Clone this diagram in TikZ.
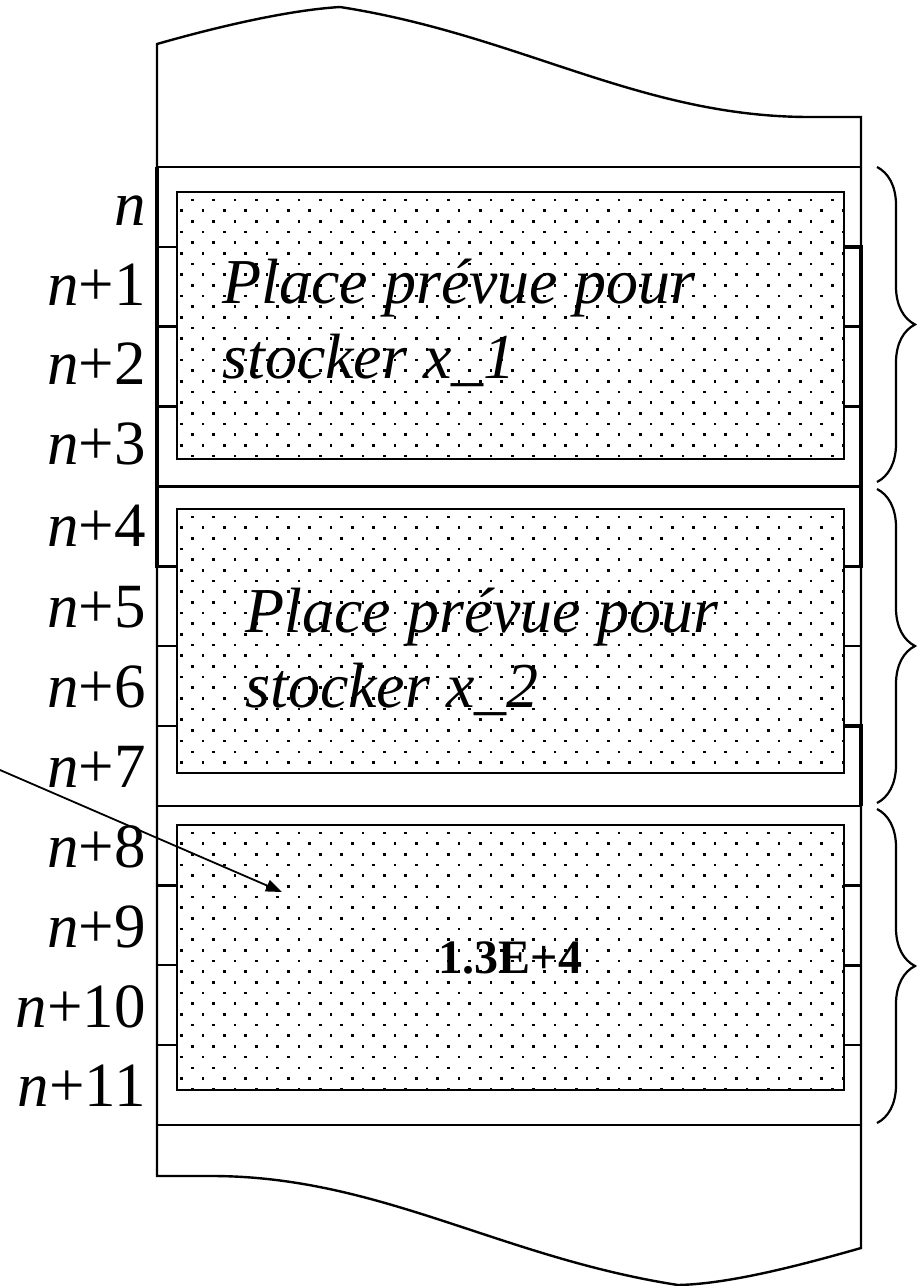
\documentclass[tikz,border=0pt]{standalone}
\usepackage{fontspec}
\setmainfont{Liberation Serif}
\usetikzlibrary{arrows.meta,decorations.pathreplacing}

% stippled fill of a rectangle: #1,#2 = top-left, #3,#4 = bottom-right (pixel units)
\newcommand\stipple[4]{%
  \begin{scope}
    \clip (#1,#2) rectangle (#3,#4);
    \foreach \j in {0,...,26}{
      \foreach \i in {0,...,32}{
        \fill ({#1+4.7+10.67*mod(\j+1,2)+21.33*\i-1.25},{#2+8+10.67*\j-1.25}) rectangle +(2.5,2.5);
      }
    }
  \end{scope}}

\tikzset{
  frame/.style={line width=1.2pt},
  heavy/.style={line width=1.7pt},
  cell/.style={line width=1.15pt},
  rowlabel/.style={anchor=base east, inner sep=0pt, font=\fontsize{31.5}{36}\selectfont},
  slottext/.style={anchor=base west, inner sep=0pt, font=\fontsize{32}{36}\selectfont\itshape},
  value/.style={inner sep=0pt, font=\fontsize{24}{28}\selectfont\bfseries},
  bracebar/.style={line width=1.1pt, decorate, decoration={brace, amplitude=19pt}},
  pointer/.style={line width=0.9pt, -{Triangle[length=8pt,width=6pt]}}
}

\begin{document}
\begin{tikzpicture}[x=0.5pt,y=-0.5pt]
  \useasboundingbox (0,0) rectangle (923,1286);

  % memory strip outline with torn top and bottom edges
  \draw[frame] (157,44) .. controls (220,26) and (290,10) .. (340,7)
    .. controls (520,35) and (640,117) .. (810,117) -- (861,117)
    -- (861,1248) .. controls (798,1266) and (728,1284) .. (678,1285)
    .. controls (498,1257) and (378,1175) .. (208,1176) -- (157,1176) -- cycle;

  % block separators
  \foreach \y in {167,486.3,805.7,1125}
    \draw[frame] (157,\y) -- (861,\y);

  % stippled storage areas
  \stipple{177}{192}{844}{459}
  \stipple{177}{509}{844}{773}
  \stipple{177}{825}{844}{1090}
  \draw[cell] (177,192) rectangle (844,459);
  \draw[cell] (177,509) rectangle (844,773);
  \draw[cell] (177,825) rectangle (844,1090);

  % word boundaries inside each block
  \foreach \t in {167,486.3,805.7}{
    \foreach \k in {1,2,3}{
      \draw[cell] (157,{\t+79.8*\k}) -- (177,{\t+79.8*\k});
      \draw[cell] (844,{\t+79.8*\k}) -- (861,{\t+79.8*\k});
    }
  }

  % overlapping word outlines drawn a little heavier
  \draw[heavy] (157,167) -- (157,566.2) -- (177,566.2);
  \draw[heavy] (844,246.8) -- (861,246.8) -- (861,566.2) -- (844,566.2);
  \draw[heavy] (844,725.8) -- (861,725.8) -- (861,805.7);
  \draw[heavy] (844,965.3) -- (861,965.3);

  % addresses
  \node[rowlabel] (l0)  at (146,225) {\textit{n}};
  \node[rowlabel] (l1)  at (146,305) {\textit{n}+1};
  \node[rowlabel] (l2)  at (146,384) {\textit{n}+2};
  \node[rowlabel] (l3)  at (146,464) {\textit{n}+3};
  \node[rowlabel] (l4)  at (146,546) {\textit{n}+4};
  \node[rowlabel] (l5)  at (146,627) {\textit{n}+5};
  \node[rowlabel] (l6)  at (146,707) {\textit{n}+6};
  \node[rowlabel] (l7)  at (146,787) {\textit{n}+7};
  \node[rowlabel] (l8)  at (146,867) {\textit{n}+8};
  \node[rowlabel] (l9)  at (146,947) {\textit{n}+9};
  \node[rowlabel] (l10) at (146,1027) {\textit{n}+10};
  \node[rowlabel] (l11) at (146,1106) {\textit{n}+11};

  % contents
  \node[slottext] (p1a) at (222,303) {Place prévue pour};
  \node[slottext] (p1b) at (222,378) {stocker x\_1};
  \node[slottext] (p2a) at (245,632) {Place prévue pour};
  \node[slottext] (p2b) at (245,707) {stocker x\_2};
  \node[value] (v3) at (510.5,957.5) {1.3E+4};

  % braces grouping four words
  \coordinate (b1t) at (877,167);  \coordinate (b1b) at (877,482);
  \coordinate (b2t) at (877,489);  \coordinate (b2b) at (877,803);
  \coordinate (b3t) at (877,809);  \coordinate (b3b) at (877,1123);
  \draw[bracebar] (b1t) -- (b1b);
  \draw[bracebar] (b2t) -- (b2b);
  \draw[bracebar] (b3t) -- (b3b);

  % pointer into the third block
  \coordinate (src) at (0,770);
  \coordinate (tgt) at (282,892);
  \draw[pointer] (src) -- (tgt);
\end{tikzpicture}
\end{document}
